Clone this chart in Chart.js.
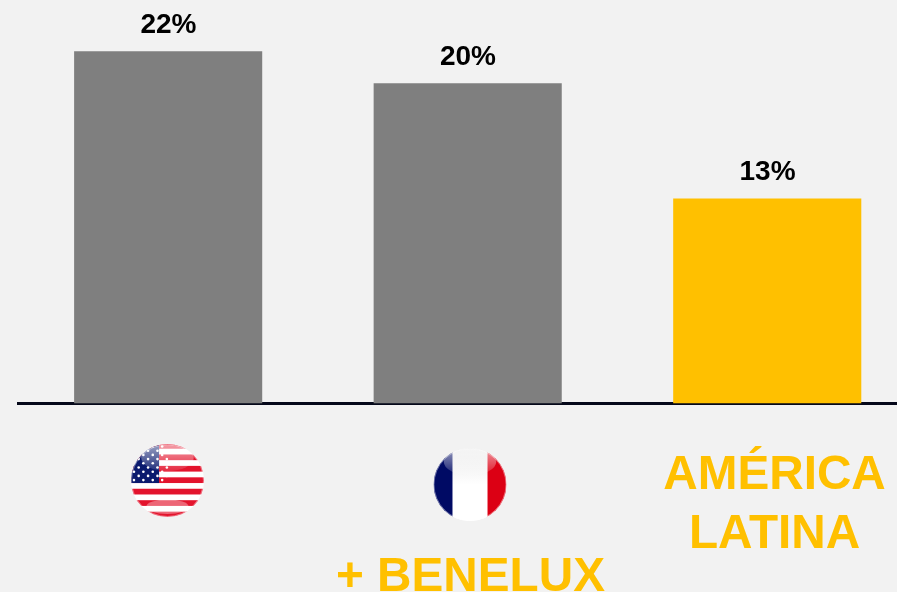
<!DOCTYPE html>
<html>
<head>
<meta charset="utf-8">
<style>
    html, body { margin: 0; padding: 0; width: 897px; height: 592px; overflow: hidden; background: #f2f2f2; }
    canvas { display: block; }
</style>
<script src="https://cdn.jsdelivr.net/npm/chart.js@4/dist/chart.umd.js"></script>
</head>
<body>
<canvas id="regionChart" width="917" height="592"></canvas>
<script>
const categories = ['Estados Unidos', 'Francia + Benelux', 'América Latina'];
const shares = [22, 20, 12.8];
const shareLabels = ['22%', '20%', '13%'];
const captions = [[], ['+ BENELUX'], ['AMÉRICA', 'LATINA']];
const barColors = ['#7f7f7f', '#7f7f7f', '#ffc000'];

const GOLD = '#ffc000';
const FONT = '"Liberation Sans", Arial, sans-serif';

// Round flag with the glossy highlight on top
function drawBall(ctx, cx, cy, r, bottomGloss, paint) {
    ctx.save();
    ctx.beginPath();
    ctx.arc(cx, cy, r, 0, Math.PI * 2);
    ctx.clip();
    ctx.fillStyle = '#ffffff';
    ctx.fillRect(cx - r, cy - r, r * 2, r * 2);
    paint();

    const gloss = ctx.createLinearGradient(0, cy - r, 0, cy - r * 0.3);
    gloss.addColorStop(0, 'rgba(255, 255, 255, 0.6)');
    gloss.addColorStop(1, 'rgba(255, 255, 255, 0.12)');
    ctx.fillStyle = gloss;
    ctx.beginPath();
    ctx.ellipse(cx, cy - r * 0.62, r * 0.72, r * 0.36, 0, 0, Math.PI * 2);
    ctx.fill();
    if (bottomGloss) {
        ctx.fillStyle = 'rgba(255, 255, 255, 0.35)';
        ctx.beginPath();
        ctx.ellipse(cx, cy + r * 0.72, r * 0.58, r * 0.2, 0, 0, Math.PI * 2);
        ctx.fill();
    }
    ctx.restore();

    ctx.strokeStyle = 'rgba(255, 255, 255, 0.4)';
    ctx.lineWidth = 1;
    ctx.beginPath();
    ctx.arc(cx, cy, r - 0.5, 0, Math.PI * 2);
    ctx.stroke();
}

function drawUsa(ctx, cx, cy, r) {
    drawBall(ctx, cx, cy, r, true, () => {
        const stripe = 5.72;
        const top = cy - 37.5;
        ctx.fillStyle = '#e3142d';
        for (let i = 0; i < 13; i += 2) {
            ctx.fillRect(cx - r, top + i * stripe, r * 2, stripe);
        }
        const cantonW = r * 0.77;
        const cantonH = top + 7 * stripe - (cy - r);
        ctx.fillStyle = '#0a1a6e';
        ctx.fillRect(cx - r, cy - r, cantonW, cantonH);
        ctx.fillStyle = '#ffffff';
        for (let row = 0; row < 9; row++) {
            const odd = row % 2;
            for (let col = 0; col < 4; col++) {
                ctx.beginPath();
                ctx.arc(cx - r + 3 + odd * 4.7 + col * 9.4, cy - r + 2.5 + row * 4.2, 1.3, 0, Math.PI * 2);
                ctx.fill();
            }
        }
    });
}

function drawFrance(ctx, cx, cy, r) {
    drawBall(ctx, cx, cy, r, false, () => {
        const band = r * 2 * 0.26;
        const shade = ctx.createLinearGradient(0, cy - r, 0, cy);
        shade.addColorStop(0, '#e6e6e6');
        shade.addColorStop(0.5, '#f2f2f2');
        shade.addColorStop(1, '#ffffff');
        ctx.fillStyle = shade;
        ctx.fillRect(cx - r, cy - r, r * 2, r * 2);
        ctx.fillStyle = '#000a64';
        ctx.fillRect(cx - r, cy - r, band, r * 2);
        ctx.fillStyle = '#dc0014';
        ctx.fillRect(cx + r - band, cy - r, band, r * 2);
    });
}

const captionsAndFlags = {
    id: 'captionsAndFlags',
    afterDraw(chart) {
        const ctx = chart.ctx;
        const x = chart.scales.x;
        const centers = categories.map((_, i) => x.getPixelForTick(i));
        drawUsa(ctx, centers[0] - 0.7, 480.5, 36.5);
        drawFrance(ctx, centers[1] + 2.3, 484.5, 36.5);

        ctx.save();
        ctx.fillStyle = GOLD;
        ctx.font = 'bold 47.7px ' + FONT;
        ctx.textAlign = 'center';
        ctx.textBaseline = 'alphabetic';
        ctx.fillText(captions[1][0], centers[1] + 2.8, 590.5);
        ctx.fillText(captions[2][0], centers[2] + 7.3, 488.5);
        ctx.fillText(captions[2][1], centers[2] + 7.3, 547.5);

        // value labels above the bars
        const bars = chart.getDatasetMeta(0).data;
        ctx.fillStyle = '#000000';
        ctx.font = 'bold 28px ' + FONT;
        bars.forEach((bar, i) => {
            ctx.fillText(shareLabels[i], bar.x + 0.3, bar.y - 18.2);
        });
        ctx.restore();
    }
};

new Chart(document.getElementById('regionChart').getContext('2d'), {
    type: 'bar',
    data: {
        labels: categories,
        datasets: [{
            data: shares,
            backgroundColor: barColors,
            borderWidth: 0,
            barPercentage: 0.628,
            categoryPercentage: 1
        }]
    },
    options: {
        responsive: false,
        animation: false,
        layout: { padding: { left: 18.4, right: 0, top: 0, bottom: 188.5 } },
        plugins: { legend: { display: false }, tooltip: { enabled: false } },
        scales: {
            x: {
                grid: { display: false, drawTicks: false },
                border: { color: '#05081a', width: 3 },
                ticks: { display: false }
            },
            y: { display: false, min: 0, max: 25.2 }
        }
    },
    plugins: [captionsAndFlags]
});
</script>
</body>
</html>
